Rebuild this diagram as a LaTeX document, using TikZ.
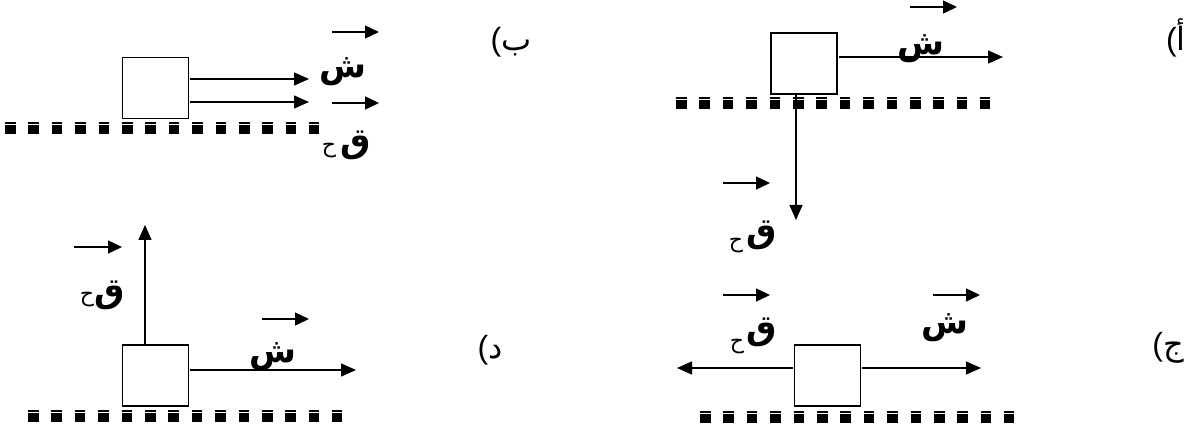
\documentclass[tikz,border=0pt]{standalone}
\usepackage{fontspec}
\newfontfamily\arabicfont[Script=Arabic]{DejaVu Sans}
\newfontfamily\parenfont{Liberation Sans}
\usetikzlibrary{arrows.meta}
\TeXXeTstate=1
\newcommand{\groundline}[2]{%
  \draw[gtop] (#1,#2+1) -- ++(314.2,0);
  \draw[gbot] (#1,#2+7.5) -- ++(314.2,0);}
\begin{document}
\begin{tikzpicture}[x=1pt,y=-1pt,
  box/.style={draw, line width=1.4pt, minimum width=66pt, minimum height=61pt, inner sep=0pt, outer sep=1.5pt},
  arr/.style={line width=1.4pt, -{Triangle[length=15pt,width=13pt]}},
  vec/.style={line width=1.4pt, -{Triangle[length=14pt,width=13pt]}},
  bigl/.style={font=\arabicfont\bfseries\fontsize{34}{38}\selectfont, inner sep=0pt},
  subl/.style={font=\arabicfont\fontsize{22}{26}\selectfont, inner sep=0pt},
  tag/.style={inner sep=0pt},
  gtop/.style={line width=2pt, dash pattern=on 10.5pt off 12.9pt},
  gbot/.style={line width=8.5pt, dash pattern=on 10.5pt off 12.9pt}]
\useasboundingbox (0,0) rectangle (1196,430);

% ---------- panel (alef) ----------
\node[box] (A) at (804,63.5) {};
\coordinate (Ar) at (1003,57);
\draw[arr] ([yshift=6.5pt]A.east) -- (Ar);
\coordinate (Ad) at (796,220);
\draw[arr] ([xshift=-8pt]A.south) -- (Ad);
\node[bigl] (Ash) at (921,49) {ش};
\coordinate (Ava) at (910,7); \coordinate (Avb) at (957,7);
\draw[vec] (Ava) -- (Avb);
\node[bigl] (Aq) at (762,235) {ق};
\node[subl] (Ah) at (736,246) {ح};
\coordinate (Aqa) at (723,183); \coordinate (Aqb) at (770,183);
\draw[vec] (Aqa) -- (Aqb);
\groundline{676}{97}
\node[tag] (At) at (1176,38) {\parenfont\fontsize{32}{36}\selectfont(\arabicfont أ};

% ---------- panel (ba) ----------
\node[box] (B) at (155.5,88) {};
\coordinate (Br1) at (309,79); \coordinate (Br2) at (309,102);
\draw[arr] ([yshift=9pt]B.east) -- (Br1);
\draw[arr] ([yshift=-14pt]B.east) -- (Br2);
\node[bigl] (Bsh) at (343,72) {ش};
\coordinate (Bva) at (332,32); \coordinate (Bvb) at (379,32);
\draw[vec] (Bva) -- (Bvb);
\coordinate (Bwa) at (332,103); \coordinate (Bwb) at (379,103);
\draw[vec] (Bwa) -- (Bwb);
\node[bigl] (Bq) at (356,145) {ق};
\node[subl] (Bh) at (329,151) {ح};
\groundline{5}{122}
\node[tag] (Bt) at (511,42) {\parenfont\fontsize{32}{36}\selectfont(\arabicfont ب};

% ---------- panel (dal) ----------
\node[box] (D) at (155.5,375.5) {};
\coordinate (Du) at (145,225);
\draw[arr] ([xshift=-10.5pt]D.north) -- (Du);
\node[bigl] (Dq) at (110,295) {ق};
\node[subl] (Dh) at (87,300) {ح};
\coordinate (Dqa) at (74,247); \coordinate (Dqb) at (122,247);
\draw[vec] (Dqa) -- (Dqb);
\coordinate (Dr) at (356,370);
\draw[arr] ([yshift=5.5pt]D.east) -- (Dr);
\node[bigl] (Dsh) at (273,357) {ش};
\coordinate (Dva) at (262,319); \coordinate (Dvb) at (309,319);
\draw[vec] (Dva) -- (Dvb);
\groundline{28}{410}
\node[tag] (Dt) at (490,350) {\parenfont\fontsize{32}{36}\selectfont(\arabicfont د};

% ---------- panel (jim) ----------
\node[box] (C) at (827.5,375.5) {};
\coordinate (Cl) at (677,368); \coordinate (Cr) at (981,368);
\draw[arr] ([yshift=7.5pt]C.west) -- (Cl);
\draw[arr] ([yshift=7.5pt]C.east) -- (Cr);
\node[bigl] (Cq) at (762,332) {ق};
\node[subl] (Ch) at (737,347) {ح};
\coordinate (Cqa) at (723,295); \coordinate (Cqb) at (770,295);
\draw[vec] (Cqa) -- (Cqb);
\node[bigl] (Csh) at (945,328) {ش};
\coordinate (Cva) at (933,295); \coordinate (Cvb) at (980,295);
\draw[vec] (Cva) -- (Cvb);
\groundline{700}{411}
\node[tag] (Ct) at (1168,348) {\parenfont\fontsize{32}{36}\selectfont(\arabicfont ج};
\end{tikzpicture}
\end{document}
